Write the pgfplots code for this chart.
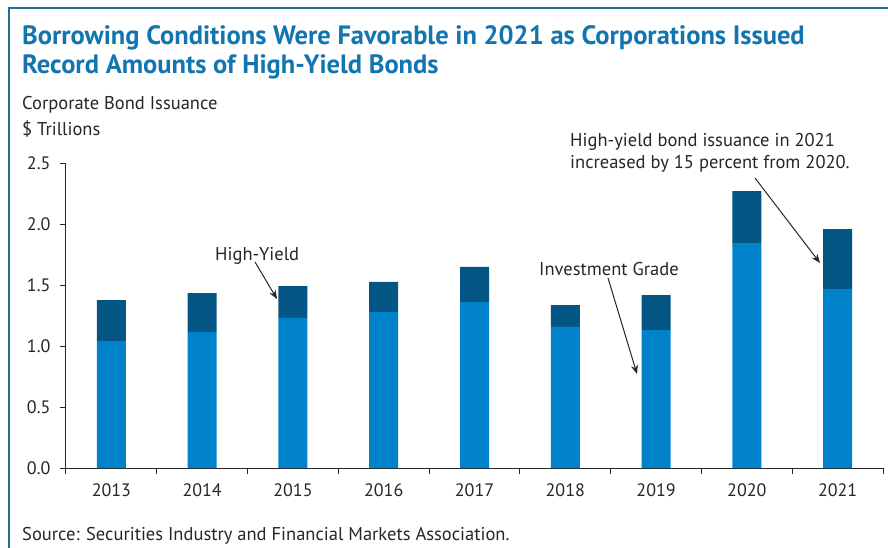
\documentclass[border=0pt]{standalone}
\usepackage{fontspec}
\setmainfont{PT Sans}
\usepackage{pgfplots}
\pgfplotsset{compat=1.18}
\usetikzlibrary{arrows.meta}
\definecolor{ig}{HTML}{0082CA}
\definecolor{hy}{HTML}{035684}
\definecolor{ttl}{HTML}{1275B0}
\definecolor{frm}{HTML}{2A6A96}
\definecolor{txt}{HTML}{262626}
\begin{document}
\begin{tikzpicture}[x=1pt,y=1pt]
\useasboundingbox (0,0) rectangle (888,-548);
\draw[frm,line width=1.5pt] (9,-560) -- (9,-8) -- (890,-8);
\tikzset{ann/.style={anchor=base west,inner sep=0pt,text=txt,font=\fontsize{18.5}{22}\selectfont}}
\node[anchor=base west,inner sep=0pt,text=ttl,font=\fontsize{26.5}{30}\selectfont\bfseries] at (22,-45) {Borrowing Conditions Were Favorable in 2021 as Corporations Issued};
\node[anchor=base west,inner sep=0pt,text=ttl,font=\fontsize{26.5}{30}\selectfont\bfseries] at (22,-73.5) {Record Amounts of High-Yield Bonds};
\node[ann] at (22,-110) {Corporate Bond Issuance};
\node[ann] at (22,-136) {\$ Trillions};
\node[ann] at (22,-540) {Source: Securities Industry and Financial Markets Association.};
\begin{axis}[
    at={(66pt,-468pt)}, anchor=south west,
    scale only axis, width=817pt, height=305pt,
    ybar stacked, bar width=29pt,
    xmin=-0.5, xmax=8.5, ymin=0, ymax=2.5,
    axis x line*=bottom, axis y line*=left,
    axis line style={txt,line width=1pt},
    xtick={0,...,8},
    xticklabels={2013,2014,2015,2016,2017,2018,2019,2020,2021},
    minor xtick={-0.5,0.5,...,8.5},
    major x tick style={draw=none},
    ytick={0,0.5,...,2.5},
    tick align=outside,
    major tick length=6pt, minor tick length=6pt,
    tick style={txt,line width=1pt},
    /pgf/number format/fixed,
    /pgf/number format/fixed zerofill,
    /pgf/number format/precision=1,
    /pgf/number format/assume math mode=true,
    ticklabel style={text=txt,font=\fontsize{18}{22}\selectfont},
    xticklabel style={yshift=-6pt},
    yticklabel style={xshift=-6pt},
]
\addplot[fill=ig, draw=none] coordinates {(0,1.04) (1,1.115) (2,1.23) (3,1.28) (4,1.36) (5,1.156) (6,1.13) (7,1.844) (8,1.467)};
\addplot[fill=hy, draw=none] coordinates {(0,0.337) (1,0.319) (2,0.26) (3,0.245) (4,0.288) (5,0.18) (6,0.288) (7,0.426) (8,0.492)};
\end{axis}
\node[ann] at (215,-260) {High-Yield};
\node[ann] at (539,-275) {Investment Grade};
\node[ann] at (570,-147) {High-yield bond issuance in 2021};
\node[ann] at (570,-168) {increased by 15 percent from 2020.};
\draw[txt,line width=1pt,-{Stealth[length=9pt,width=7pt]}] (255,-262) -- (277,-299);
\draw[txt,line width=1pt,-{Stealth[length=9pt,width=7pt]}] (608,-278) -- (637,-374);
\draw[txt,line width=1pt,-{Stealth[length=9pt,width=7pt]}] (755,-178) -- (820,-263);
\end{tikzpicture}
\end{document}
